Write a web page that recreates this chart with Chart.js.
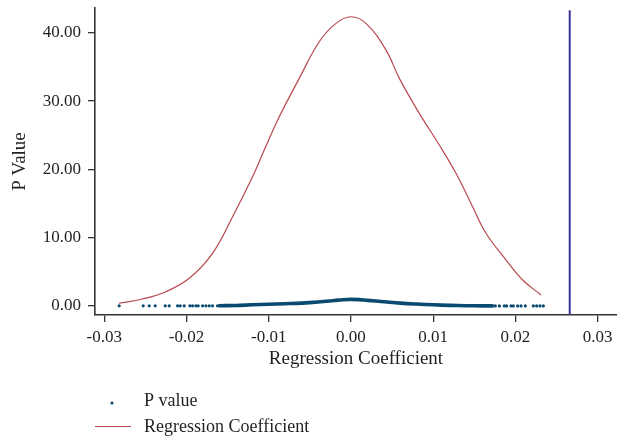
<!DOCTYPE html>
<html>
<head>
<meta charset="utf-8">
<script src="https://cdn.jsdelivr.net/npm/chart.js@4/dist/chart.umd.min.js"></script>
<style>
  html, body { margin: 0; padding: 0; background: #fff; }
  #wrap { width: 617px; height: 441px; position: relative; }
</style>
</head>
<body>
<div id="wrap"><canvas id="c" width="617" height="441"></canvas></div>
<script>
// ---- Data ----
const xTicks = [-0.03, -0.02, -0.01, 0.00, 0.01, 0.02, 0.03];
const yTicks = [0, 10, 20, 30, 40];

// Regression coefficient density curve
const coefX = [-0.02822, -0.02535, -0.02251, -0.01967, -0.01684, -0.01440, -0.01197, -0.01055,
               -0.00872, -0.00629, -0.00386, -0.00182, 0.00000, 0.00182, 0.00426, 0.00588,
               0.00831, 0.01074, 0.01277, 0.01479, 0.01642, 0.01886, 0.02088, 0.02311];
const coefY = [0.40, 1.02, 2.09, 4.05, 7.71, 13.07, 18.92, 22.83,
               27.70, 33.32, 38.68, 41.37, 42.34, 41.37, 37.46, 33.32,
               28.20, 23.56, 19.42, 14.53, 10.64, 6.73, 3.81, 1.61];

// P values: sparse points at both tails
const pTailX = [-0.02819, -0.02527, -0.02454, -0.02381, -0.02259, -0.02211, -0.02109, -0.02077,
                -0.02028, -0.01959, -0.01927, -0.01886, -0.01858, -0.01805, -0.01764, -0.01724,
                -0.01684, -0.01623,
                0.01755, 0.01804, 0.01865, 0.01893, 0.01946, 0.01974, 0.02027, 0.02068,
                0.02120, 0.02218, 0.02258, 0.02299, 0.02339];
const pTailY = [0.02, 0.02, 0.02, 0.02, 0.02, 0.02, 0.02, 0.02,
                0.02, 0.02, 0.02, 0.02, 0.02, 0.02, 0.02, 0.02,
                0.02, 0.03,
                0.01, 0.01, 0.01, 0.01, 0.01, 0.01, 0.01, 0.01,
                0.01, 0.01, 0.01, 0.01, 0.01];
// P values: densely packed points in the middle (they merge into a band)
const pBandX = [-0.0160, -0.0140, -0.0120, -0.0100, -0.0080, -0.0060, -0.0040, -0.0020, -0.0010,
                0.0000, 0.0010, 0.0020, 0.0040, 0.0060, 0.0080, 0.0100, 0.0120, 0.0140, 0.0160, 0.0172];
const pBandY = [0.03, 0.08, 0.17, 0.25, 0.33, 0.42, 0.58, 0.80, 0.92,
                0.97, 0.93, 0.82, 0.62, 0.42, 0.28, 0.17, 0.09, 0.04, 0.02, 0.01];

// Vertical reference line
const refLineX = [0.0266];

const seriesNames = ['P value', 'Regression Coefficient'];

// ---- Styles ----
const FONT = "'Liberation Serif', 'DejaVu Serif', serif";
const TEXT = '#231f20';
const AXIS = '#333333';
const BLUE = '#0b4a70';
const RED = '#b8474f';
const PURPLE = '#3b3498';

const X_MIN = -0.03113, X_MAX = 0.03235;
const Y_MIN = -1.32, Y_MAX = 43.62;

const zip = (xs, ys) => xs.map((x, i) => ({ x: x, y: ys[i] }));

const legendPlugin = {
  id: 'customLegend',
  afterDraw(chart) {
    const ctx = chart.ctx;
    const left = chart.chartArea.left;
    ctx.save();
    ctx.font = '18px ' + FONT;
    ctx.textBaseline = 'middle';
    ctx.textAlign = 'left';
    // item 1: dot
    ctx.beginPath();
    ctx.fillStyle = BLUE;
    ctx.arc(left + 17, 403, 1.6, 0, Math.PI * 2);
    ctx.fill();
    ctx.fillStyle = TEXT;
    ctx.fillText(seriesNames[0], left + 49, 401);
    // item 2: line
    ctx.beginPath();
    ctx.strokeStyle = RED;
    ctx.lineWidth = 1.2;
    ctx.moveTo(left, 426.5);
    ctx.lineTo(left + 36, 426.5);
    ctx.stroke();
    ctx.fillText(seriesNames[1], left + 49, 427);
    ctx.restore();
  }
};

const zeroPad = (scale) => {
  scale.paddingLeft = 0; scale.paddingRight = 0;
  scale.paddingTop = 0; scale.paddingBottom = 0;
};

new Chart(document.getElementById('c'), {
  type: 'scatter',
  data: {
    datasets: [
      {
        label: seriesNames[1],
        data: zip(coefX, coefY),
        showLine: true,
        borderColor: RED,
        borderWidth: 1.2,
        pointRadius: 0,
        tension: 0.4,
        fill: false,
        order: 1
      },
      {
        label: seriesNames[0] + ' (dense)',
        data: zip(pBandX, pBandY),
        showLine: true,
        borderColor: BLUE,
        borderWidth: 3.6,
        pointRadius: 0,
        tension: 0.4,
        borderCapStyle: 'round',
        fill: false,
        order: 2
      },
      {
        label: seriesNames[0],
        data: zip(pTailX, pTailY),
        showLine: false,
        backgroundColor: BLUE,
        borderColor: BLUE,
        borderWidth: 0,
        pointRadius: 1.6,
        order: 2
      },
      {
        label: 'reference',
        data: [{ x: refLineX[0], y: Y_MIN }, { x: refLineX[0], y: 43.3 }],
        showLine: true,
        borderColor: PURPLE,
        borderWidth: 2,
        pointRadius: 0,
        fill: false,
        order: 0
      }
    ]
  },
  plugins: [legendPlugin],
  options: {
    responsive: false,
    animation: false,
    layout: { autoPadding: false, padding: { left: 0, right: 0, top: 8, bottom: 66 } },
    plugins: {
      legend: { display: false },
      tooltip: { enabled: false }
    },
    scales: {
      x: {
        type: 'linear',
        min: X_MIN,
        max: X_MAX,
        afterBuildTicks: (scale) => { scale.ticks = xTicks.map(v => ({ value: v })); },
        afterFit: (scale) => { scale.height = 60; zeroPad(scale); },
        ticks: {
          callback: (v) => Number(v).toFixed(2),
          color: TEXT,
          font: { family: FONT, size: 17 },
          padding: 5,
          maxRotation: 0,
          autoSkip: false
        },
        grid: { drawOnChartArea: false, drawTicks: true, tickLength: 7, color: AXIS, lineWidth: 1.3 },
        border: { display: true, color: AXIS, width: 1.6 },
        title: {
          display: true,
          text: 'Regression Coefficient',
          color: TEXT,
          font: { family: FONT, size: 19 },
          padding: { top: 0, bottom: 5 }
        }
      },
      y: {
        type: 'linear',
        min: Y_MIN,
        max: Y_MAX,
        afterBuildTicks: (scale) => { scale.ticks = yTicks.map(v => ({ value: v })); },
        afterFit: (scale) => { scale.width = 95; zeroPad(scale); },
        ticks: {
          callback: (v) => Number(v).toFixed(2),
          color: TEXT,
          font: { family: FONT, size: 17 },
          padding: 7
        },
        grid: { drawOnChartArea: false, drawTicks: true, tickLength: 7, color: AXIS, lineWidth: 1.3 },
        border: { display: true, color: AXIS, width: 1.6 },
        title: {
          display: true,
          text: 'P Value',
          color: TEXT,
          font: { family: FONT, size: 19 },
          padding: { top: 9, bottom: 0 }
        }
      }
    }
  }
});
</script>
</body>
</html>
